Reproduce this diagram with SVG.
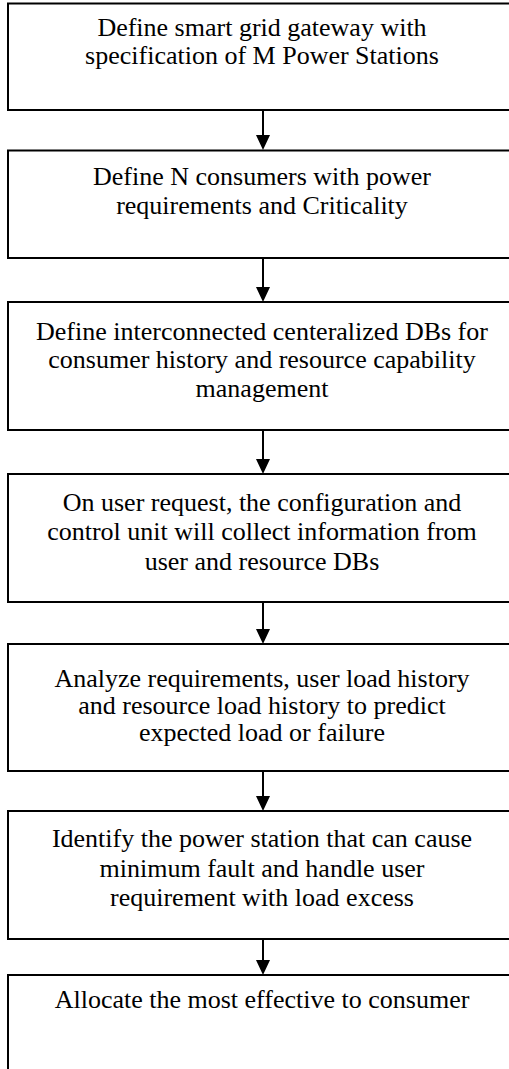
<svg xmlns="http://www.w3.org/2000/svg" width="509" height="1069" viewBox="0 0 509 1069">
<style>
.box{fill:#fff;stroke:#000;stroke-width:2}
.t{font-family:'Liberation Serif','Times New Roman','DejaVu Serif',serif;font-size:26px;fill:#000;text-anchor:middle}
.c{stroke:#000;stroke-width:2;fill:none}
.h{fill:#000}
</style>
<rect width="509" height="1069" fill="#fff"/>
<g id="n1"><rect class="box" x="8" y="3.5" width="508" height="106.5"/>
<text class="t" x="262" y="36">Define smart grid gateway with</text>
<text class="t" x="262" y="64">specification of M Power Stations</text></g>
<g id="n2"><rect class="box" x="8" y="150.5" width="508" height="107.5"/>
<text class="t" x="262" y="185">Define N consumers with power</text>
<text class="t" x="262" y="214">requirements and Criticality</text></g>
<g id="n3"><rect class="box" x="8" y="302" width="508" height="128"/>
<text class="t" x="262" y="340">Define interconnected centeralized DBs for</text>
<text class="t" x="262" y="368">consumer history and resource capability</text>
<text class="t" x="262" y="397">management</text></g>
<g id="n4"><rect class="box" x="8" y="474" width="508" height="128"/>
<text class="t" x="262" y="511">On user request, the configuration and</text>
<text class="t" x="262" y="540">control unit will collect information from</text>
<text class="t" x="262" y="570">user and resource DBs</text></g>
<g id="n5"><rect class="box" x="8" y="644" width="508" height="127"/>
<text class="t" x="262" y="687">Analyze requirements, user load history</text>
<text class="t" x="262" y="714">and resource load history to predict</text>
<text class="t" x="262" y="741">expected load or failure</text></g>
<g id="n6"><rect class="box" x="8" y="811" width="508" height="128"/>
<text class="t" x="262" y="847">Identify the power station that can cause</text>
<text class="t" x="262" y="877">minimum fault and handle user</text>
<text class="t" x="262" y="906">requirement with load excess</text></g>
<g id="n7"><rect class="box" x="8" y="975" width="508" height="130"/>
<text class="t" x="262" y="1008">Allocate the most effective to consumer</text></g>
<g id="connectors">
<path class="c" d="M263,110 V136"/><path class="h" d="M256,135 H270 L263,150 Z"/>
<path class="c" d="M263,258 V288"/><path class="h" d="M256,287 H270 L263,302 Z"/>
<path class="c" d="M263,430 V460"/><path class="h" d="M256,459 H270 L263,474 Z"/>
<path class="c" d="M263,602 V630"/><path class="h" d="M256,629 H270 L263,644 Z"/>
<path class="c" d="M263,771 V797"/><path class="h" d="M256,796 H270 L263,811 Z"/>
<path class="c" d="M263,939 V961"/><path class="h" d="M256,960 H270 L263,975 Z"/>
</g>
</svg>
